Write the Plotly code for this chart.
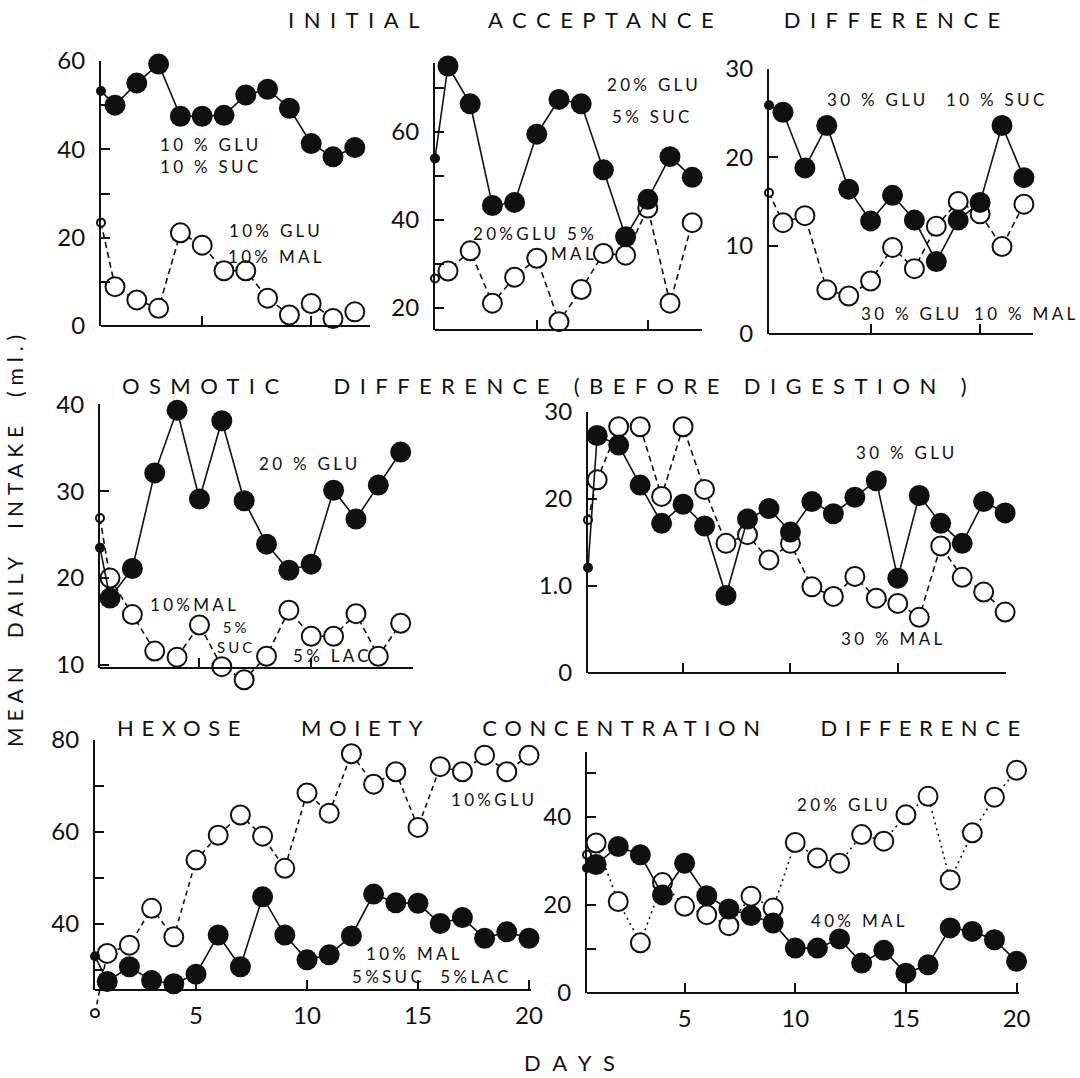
import plotly.graph_objects as go

W, H = 1080, 1078
INK = "#101010"
FONT = "Lato"

# ---------------- data: mean daily intake (ml) ----------------
# Each series starts with the pretest value (drawn small, on the y axis),
# followed by one value per experimental day.
days_12 = list(range(1, 13))
days_14 = list(range(1, 15))
days_20 = list(range(1, 21))

# Initial acceptance difference
ia_glu10_suc10 = [53.2, 50.0, 55.0, 59.3, 47.5, 47.5, 47.7, 52.3, 53.6, 49.3, 41.3, 38.3, 40.4]
ia_glu10_mal10 = [23.4, 8.9, 5.9, 4.0, 21.1, 18.3, 12.5, 12.5, 6.3, 2.5, 5.1, 1.7, 3.2]
ia_glu20_suc5 = [54.0, 75.0, 66.4, 43.3, 44.0, 59.5, 67.4, 66.4, 51.4, 36.2, 44.7, 54.4, 49.7]
ia_glu20_mal5 = [26.7, 28.4, 33.0, 21.1, 27.0, 31.3, 16.9, 24.2, 32.4, 32.0, 42.7, 21.1, 39.4]
ia_glu30_suc10 = [25.9, 25.1, 18.8, 23.6, 16.4, 12.8, 15.7, 12.9, 8.2, 12.9, 14.9, 23.6, 17.7]
ia_glu30_mal10 = [16.0, 12.6, 13.4, 5.0, 4.3, 6.0, 9.8, 7.4, 12.2, 15.0, 13.6, 9.9, 14.7]

# Osmotic difference (before digestion)
os_glu20 = [23.5, 17.7, 21.1, 32.1, 39.3, 29.1, 38.1, 28.9, 23.9, 20.9, 21.6, 30.1, 26.8, 30.7, 34.5]
os_mal10_suc5_lac5 = [26.9, 20.0, 15.8, 11.6, 10.9, 14.6, 9.8, 8.3, 11.0, 16.3, 13.3, 13.3, 15.9, 11.0, 14.8]
os_glu30 = [12.1, 27.3, 26.2, 21.6, 17.2, 19.4, 16.9, 8.9, 17.7, 18.9, 16.2, 19.7, 18.3, 20.2, 22.1,
            10.9, 20.4, 17.2, 14.9, 19.7, 18.4]
os_mal30 = [17.6, 22.2, 28.3, 28.3, 20.3, 28.3, 21.1, 14.9, 15.9, 13.0, 14.9, 9.9, 8.8, 11.1, 8.6,
            8.0, 6.4, 14.6, 11.0, 9.3, 7.0]

# Hexose moiety concentration difference
hx_mal10_suc5_lac5 = [33.0, 27.5, 30.7, 27.7, 27.0, 29.1, 37.6, 30.7, 45.9, 37.6, 32.2, 33.3, 37.4,
                      46.5, 44.6, 44.5, 40.1, 41.4, 36.9, 38.3, 36.9]
hx_glu10 = [20.6, 33.6, 35.4, 43.4, 37.2, 53.9, 59.3, 63.7, 59.1, 52.1, 68.5, 64.1, 77.0, 70.4, 73.1,
            61.0, 74.2, 73.1, 76.7, 73.1, 76.7]
hx_mal40 = [28.4, 29.2, 33.3, 31.4, 22.3, 29.5, 22.1, 19.1, 17.6, 15.9, 10.2, 10.2, 12.3, 6.8, 9.7,
            4.5, 6.4, 14.8, 14.0, 12.1, 7.2]
hx_glu20 = [31.4, 34.1, 20.8, 11.4, 25.1, 19.7, 17.8, 15.3, 22.0, 19.3, 34.2, 30.7, 29.5, 36.0, 34.5,
            40.5, 44.7, 25.7, 36.4, 44.5, 50.6]

# tick values / labels
yt_60 = [0, 10, 20, 30, 40, 50, 60]
yl_60 = ["0", "", "20", "", "40", "", "60"]
yt_70 = [20, 30, 40, 50, 60, 70]
yl_70 = ["20", "", "40", "", "60", ""]
yt_30 = [0, 10, 20, 30]
yl_30 = ["0", "10", "20", "30"]
yl_30b = ["0", "1.0", "20", "30"]
yt_40 = [10, 20, 30, 40]
yl_40 = ["10", "20", "30", "40"]
yt_80 = [30, 40, 50, 60, 70, 80]
yl_80 = ["", "40", "", "60", "", "80"]
yt_50 = [0, 10, 20, 30, 40, 50]
yl_50 = ["0", "", "20", "", "40", ""]
xt_short = [5, 10]
xt_long = [5, 10, 15, 20]
xl_long = ["5", "10", "15", "20"]

# ---------------- panel geometry (pixels) ----------------
# L/R: x-axis extent, day1: pixel of day 1, ppd: pixels per day
# T/B: y-axis extent, ybase: value at B, ppu: pixels per unit
panels = [
    dict(days=days_12, solid=ia_glu10_suc10, open=ia_glu10_mal10, L=101, R=370, day1=115, ppd=21.8,
         T=61, B=326, ybase=0, ppu=265 / 60, yt=yt_60, yl=yl_60, xt=xt_short, xl=None, dash="6px,4px"),
    dict(days=days_12, solid=ia_glu20_suc5, open=ia_glu20_mal5, L=435, R=702, day1=448, ppd=22.2,
         T=63, B=330, ybase=15, ppu=4.4, yt=yt_70, yl=yl_70, xt=xt_short, xl=None, dash="6px,4px"),
    dict(days=days_12, solid=ia_glu30_suc10, open=ia_glu30_mal10, L=769, R=1033, day1=783, ppd=21.9,
         T=69, B=334, ybase=0, ppu=265 / 30, yt=yt_30, yl=yl_30, xt=xt_short, xl=None, dash="6px,4px"),
    dict(days=days_14, solid=os_glu20, open=os_mal10_suc5_lac5, L=100, R=413, day1=110, ppd=22.36,
         T=404, B=668, ybase=9.65, ppu=8.69, yt=yt_40, yl=yl_40, xt=xt_short, xl=None, dash="6px,4px"),
    dict(days=days_20, solid=os_glu30, open=os_mal30, L=588, R=1006, day1=597.2, ppd=21.47,
         T=412, B=673, ybase=0, ppu=8.7, yt=yt_30, yl=yl_30b, xt=xt_long, xl=None, dash="6px,4px"),
    dict(days=days_20, solid=hx_mal10_suc5_lac5, open=hx_glu10, L=95, R=531, day1=107.2, ppd=22.2,
         T=740, B=990, ybase=25.65, ppu=4.6, yt=yt_80, yl=yl_80, xt=xt_long, xl=xl_long, dash="5px,4px"),
    dict(days=days_20, solid=hx_mal40, open=hx_glu20, L=587, R=1019, day1=596.1, ppd=22.13,
         T=752, B=993, ybase=0, ppu=4.4, yt=yt_50, yl=yl_50, xt=xt_long, xl=xl_long, dash="2px,4px"),
]

PAD = 32
fig = go.Figure()
layout = {}
tickfont = dict(family=FONT, size=24, color=INK)

for i, p in enumerate(panels, start=1):
    x0 = 1 + (p["L"] - p["day1"]) / p["ppd"]
    x1 = 1 + (p["R"] - p["day1"]) / p["ppd"]
    ytop = p["ybase"] + (p["B"] - p["T"]) / p["ppu"]
    dbot = p["ybase"] - PAD / p["ppu"]
    dtop = ytop + PAD / p["ppu"]
    xs = [x0] + p["days"]
    sizes = [9] + [20] * len(p["days"])
    xa, ya, yd = f"x{i}", f"y{i}", f"y{i + 10}"

    # open-circle series (dashed)
    fig.add_trace(go.Scatter(
        x=xs, y=p["open"], xaxis=xa, yaxis=ya, mode="lines+markers", cliponaxis=False,
        line=dict(color=INK, width=1.6, dash=p["dash"]),
        marker=dict(symbol="circle", size=[s - 1 for s in sizes], color="white", opacity=1,
                    line=dict(color=INK, width=2)),
        showlegend=False, hoverinfo="skip"))
    # filled-circle series (solid)
    fig.add_trace(go.Scatter(
        x=xs, y=p["solid"], xaxis=xa, yaxis=ya, mode="lines+markers", cliponaxis=False,
        line=dict(color=INK, width=1.6),
        marker=dict(symbol="circle", size=[s + 1 for s in sizes], color=INK, opacity=1,
                    line=dict(color=INK, width=0)),
        showlegend=False, hoverinfo="skip"))
    # empty trace so the display y axis is built
    fig.add_trace(go.Scatter(x=[None], y=[None], xaxis=xa, yaxis=yd, showlegend=False,
                             hoverinfo="skip"))

    layout[f"xaxis{i}"] = dict(
        domain=[p["L"] / W, p["R"] / W], range=[x0, x1], anchor="free", position=1 - p["B"] / H,
        showline=True, linecolor=INK, linewidth=2, ticks="inside", ticklen=9, tickwidth=2,
        tickcolor=INK, tickvals=p["xt"], ticktext=p["xl"] if p["xl"] else [""] * len(p["xt"]),
        showticklabels=bool(p["xl"]), tickfont=tickfont, ticklabelstandoff=4,
        showgrid=False, zeroline=False, fixedrange=True, automargin=False)
    layout[f"yaxis{i}"] = dict(
        domain=[1 - (p["B"] + PAD) / H, 1 - (p["T"] - PAD) / H], range=[dbot, dtop],
        anchor=xa, visible=False, showgrid=False, zeroline=False, fixedrange=True,
        automargin=False)
    layout[f"yaxis{i + 10}"] = dict(
        domain=[1 - p["B"] / H, 1 - p["T"] / H], range=[p["ybase"], ytop], anchor=xa,
        showline=True, linecolor=INK, linewidth=2, ticks="inside", ticklen=9, tickwidth=2,
        tickcolor=INK, tickvals=p["yt"], ticktext=p["yl"], tickfont=tickfont,
        ticklabelstandoff=9, showgrid=False, zeroline=False, fixedrange=True, automargin=False)


def spaced(lines, sp, gap):
    """Letter-spaced text; each line is a list of words joined by `gap` non-breaking spaces."""
    joiner = "\u00a0" * gap
    return "<br>".join(
        f'<span style="letter-spacing:{sp}px">{joiner.join(words)}</span>' for words in lines)


# (lines of words, centre x px, centre y px, font size, letter spacing, word gap, angle)
texts = [
    ([["INITIAL", "ACCEPTANCE", "DIFFERENCE"]], 649, 20, 22, 9.5, 4, 0),
    ([["OSMOTIC", "", "", "DIFFERENCE", "(BEFORE", "DIGESTION", ")"]], 549, 385, 22, 9.4, 1, 0),
    ([["HEXOSE", "MOIETY", "CONCENTRATION", "DIFFERENCE"]], 572, 727, 22, 7.6, 4, 0),
    ([["DAYS"]], 575, 1062, 22, 12, 1, 0),
    ([["MEAN", "DAILY", "INTAKE", "(ml.)"]], 15, 538, 21, 6, 2, -90),
    # panel captions
    ([["10", "%", "GLU"]], 211, 144, 17, 3.3, 1, 0),
    ([["10", "%", "SUC"]], 211, 166, 17, 3.3, 1, 0),
    ([["10%", "GLU"]], 276, 230, 17, 3.3, 1, 0),
    ([["10%", "MAL"]], 276, 256, 17, 3.3, 1, 0),
    ([["20%", "GLU"]], 654, 85, 17, 3.3, 1, 0),
    ([["5%", "SUC"]], 652, 117, 17, 3.3, 1, 0),
    ([["20%GLU", "5%"]], 535, 233, 17, 3.3, 1, 0),
    ([["MAL"]], 574, 253, 17, 3.3, 1, 0),
    ([["30", "%", "GLU"]], 878, 100, 17, 3.3, 1, 0),
    ([["10", "%", "SUC"]], 997, 100, 17, 3.3, 1, 0),
    ([["30", "%", "GLU"]], 912, 313, 17, 3.3, 1, 0),
    ([["10", "%", "MAL"]], 1026, 313, 17, 3.3, 1, 0),
    ([["20", "%", "GLU"]], 310, 463, 17, 3.3, 1, 0),
    ([["10%MAL"]], 194, 604, 17, 3.3, 1, 0),
    ([["5%"], ["SUC"]], 236, 637, 15, 3, 1, 0),
    ([["5%", "LAC"]], 332, 655, 17, 3.3, 1, 0),
    ([["30", "%", "GLU"]], 907, 452, 17, 3.3, 1, 0),
    ([["30", "%", "MAL"]], 893, 638, 17, 3.3, 1, 0),
    ([["10%GLU"]], 494, 800, 17, 3.3, 1, 0),
    ([["10%", "MAL"]], 414, 953, 17, 3.3, 1, 0),
    ([["5%SUC", "5%LAC"]], 432, 976, 17, 3.3, 2, 0),
    ([["20%", "GLU"]], 844, 804, 17, 3.3, 1, 0),
    ([["40%", "MAL"]], 859, 920, 17, 3.3, 1, 0),
]

annotations = [
    dict(text=spaced(w, sp, g), x=cx / W, y=1 - cy / H, xref="paper", yref="paper",
         xanchor="center", yanchor="middle", showarrow=False, textangle=ang,
         font=dict(family=FONT, size=sz, color=INK))
    for w, cx, cy, sz, sp, g, ang in texts
]

fig.update_layout(
    template="none",
    width=W, height=H, margin=dict(l=0, r=0, t=0, b=0, pad=0, autoexpand=False),
    paper_bgcolor="white", plot_bgcolor="rgba(0,0,0,0)",
    showlegend=False, annotations=annotations, **layout)

fig.write_html("out.html")
